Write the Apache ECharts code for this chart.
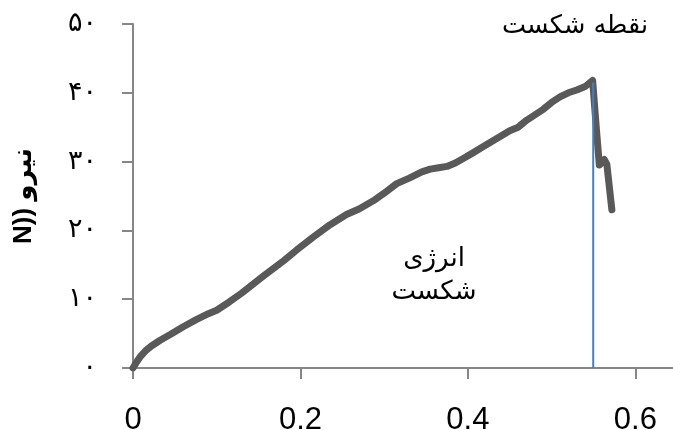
<!DOCTYPE html>
<html>
<head>
<meta charset="utf-8">
<script src="https://cdn.jsdelivr.net/npm/echarts@6/dist/echarts.min.js"></script>
<style>
  html, body { margin: 0; padding: 0; background: #ffffff; }
  #chart { width: 673px; height: 430px; }
</style>
</head>
<body>
<div id="chart"></div>
<script>
// Displacement (x) and force in N (y) of the load curve
const displacement = [0, 0.004, 0.009, 0.015, 0.022, 0.032, 0.045, 0.06, 0.075, 0.09, 0.1, 0.115, 0.13, 0.155, 0.18, 0.195, 0.215, 0.235, 0.255, 0.27, 0.287, 0.3, 0.315, 0.33, 0.345, 0.355, 0.365, 0.375, 0.385, 0.395, 0.405, 0.42, 0.435, 0.45, 0.46, 0.47, 0.48, 0.49, 0.5, 0.51, 0.52, 0.53, 0.54, 0.549, 0.553, 0.557, 0.563, 0.566, 0.572];
const force = [0, 0.8, 1.7, 2.5, 3.2, 4.0, 4.9, 6.0, 7.0, 7.9, 8.4, 9.6, 10.9, 13.3, 15.6, 17.1, 19.0, 20.8, 22.3, 23.1, 24.3, 25.4, 26.8, 27.6, 28.5, 28.9, 29.1, 29.3, 29.8, 30.5, 31.2, 32.3, 33.4, 34.5, 35.0, 36.0, 36.8, 37.6, 38.6, 39.4, 40.0, 40.4, 40.9, 41.8, 35.5, 29.5, 30.3, 29.6, 23.0];

// Vertical marker at the break point
const breakX = [0.5497, 0.5497];
const breakY = [0, 41.5];

// Axis ticks
const xTicks = [0, 0.2, 0.4, 0.6];
const yTickLabels = ['۰', '۱۰', '۲۰', '۳۰', '۴۰', '۵۰'];

const curveData = displacement.map((x, i) => [x, force[i]]);
const breakData = breakX.map((x, i) => [x, breakY[i]]);

const axisGray = '#868686';
const chart = echarts.init(document.getElementById('chart'), null, { renderer: 'canvas' });

chart.setOption({
  animation: false,
  backgroundColor: '#ffffff',
  grid: { left: 133, right: 0, top: 24, bottom: 62, containLabel: false, outerBoundsMode: 'none' },
  xAxis: {
    type: 'value',
    min: 0,
    max: 0.645,
    interval: 0.2,
    splitLine: { show: false },
    axisLine: { show: true, lineStyle: { color: axisGray, width: 2 } },
    axisTick: { show: true, length: 11, lineStyle: { color: axisGray, width: 2 }, customValues: xTicks },
    axisLabel: {
      customValues: xTicks,
      margin: 37,
      fontFamily: 'Liberation Sans, Arial, sans-serif',
      fontSize: 31,
      color: '#000000',
      formatter: v => String(Math.round(v * 10) / 10)
    }
  },
  yAxis: {
    type: 'value',
    min: 0,
    max: 50,
    interval: 10,
    name: 'N)) نیرو',
    nameLocation: 'middle',
    nameRotate: 90,
    nameGap: 96,
    nameTextStyle: {
      fontFamily: 'Liberation Sans, DejaVu Sans, sans-serif',
      fontWeight: 'bold',
      fontSize: 26,
      color: '#000000'
    },
    splitLine: { show: false },
    axisLine: { show: true, lineStyle: { color: axisGray, width: 2 } },
    axisTick: { show: true, length: 11, lineStyle: { color: axisGray, width: 2 } },
    axisLabel: {
      margin: 36,
      fontFamily: 'DejaVu Sans, sans-serif',
      fontSize: 27,
      color: '#000000',
      formatter: v => yTickLabels[Math.round(v / 10)]
    }
  },
  series: [
    {
      type: 'line',
      data: curveData,
      showSymbol: false,
      symbol: 'none',
      lineStyle: { color: '#595959', width: 7, cap: 'round', join: 'round' },
      z: 2
    },
    {
      type: 'line',
      data: breakData,
      showSymbol: false,
      symbol: 'none',
      lineStyle: { color: '#4a7ebb', width: 2 },
      z: 3
    }
  ],
  graphic: [
    {
      type: 'text',
      x: 648,
      y: 26,
      style: {
        text: 'نقطه شکست',
        font: '25.5px "DejaVu Sans", sans-serif',
        align: 'right',
        verticalAlign: 'middle',
        fill: '#000000'
      }
    },
    {
      type: 'text',
      x: 434,
      y: 276,
      style: {
        text: 'انرژی\nشکست',
        font: '26px "DejaVu Sans", sans-serif',
        lineHeight: 33,
        align: 'center',
        verticalAlign: 'middle',
        fill: '#000000'
      }
    }
  ]
});
</script>
</body>
</html>
